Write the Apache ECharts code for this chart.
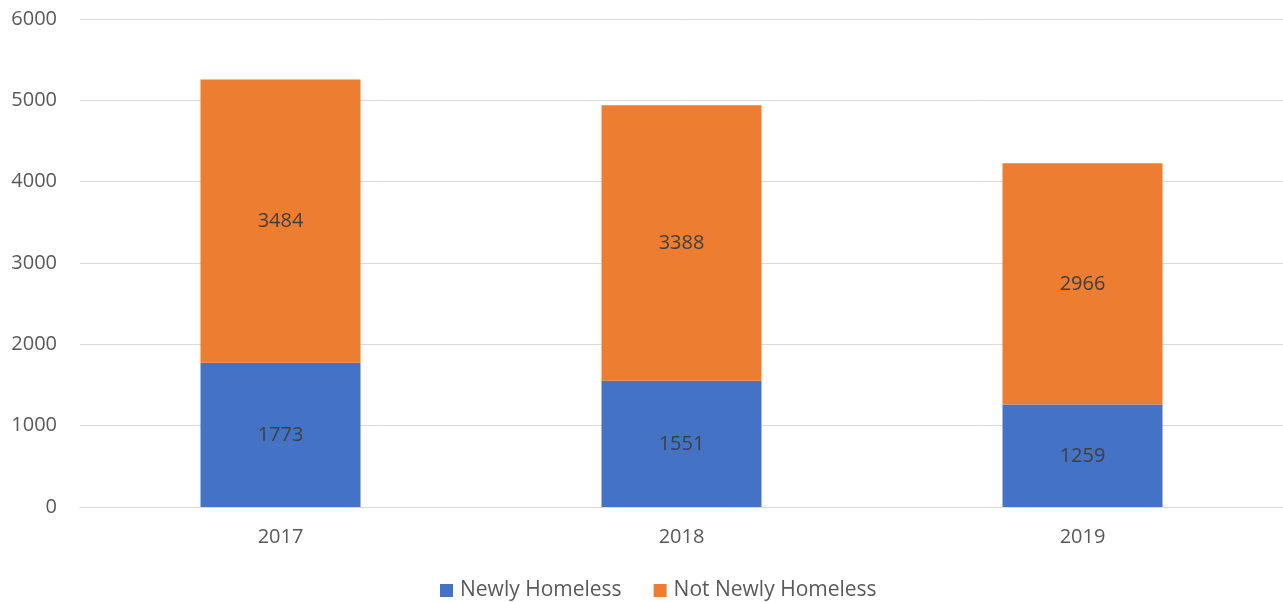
<!DOCTYPE html>
<html>
<head>
<meta charset="utf-8">
<script src="https://cdn.jsdelivr.net/npm/echarts@6/dist/echarts.min.js"></script>
<style>
  html, body { margin: 0; padding: 0; background: #ffffff; }
  #chart { width: 1283px; height: 602px; }
</style>
</head>
<body>
<div id="chart"></div>
<script>
// Homeless counts by year, split into newly and not newly homeless
const years = ['2017', '2018', '2019'];
const newlyHomeless = [1773, 1551, 1259];
const notNewlyHomeless = [3484, 3388, 2966];
const yTicks = [0, 1000, 2000, 3000, 4000, 5000, 6000];

const FONT = "'Open Sans', 'Liberation Sans', sans-serif";
const FS = 20;

const chart = echarts.init(document.getElementById('chart'), null, { renderer: 'canvas' });

const labelStyle = {
  show: true,
  position: 'inside',
  color: '#404040',
  fontFamily: FONT,
  fontSize: FS
};

chart.setOption({
  animation: false,
  textStyle: { fontFamily: FONT },
  grid: { left: 80, right: 0, top: 19, bottom: 95, containLabel: false },
  legend: {
    left: 440,
    top: 580,
    padding: 0,
    itemWidth: 13,
    itemHeight: 13,
    itemGap: 32,
    icon: 'rect',
    textStyle: { color: '#595959', fontSize: 21, fontFamily: FONT, padding: [0, 0, 0, 2] },
    data: ['Newly Homeless', 'Not Newly Homeless']
  },
  xAxis: {
    type: 'category',
    data: years,
    axisLine: { show: true, lineStyle: { color: '#d9d9d9', width: 1 } },
    axisTick: { show: false },
    axisLabel: { color: '#595959', fontSize: FS, margin: 20, fontFamily: FONT }
  },
  yAxis: {
    type: 'value',
    min: yTicks[0],
    max: yTicks[yTicks.length - 1],
    interval: 1000,
    axisLine: { show: false },
    axisTick: { show: false },
    axisLabel: {
      color: '#595959', fontSize: FS, margin: 23, fontFamily: FONT,
      formatter: (v) => String(v)
    },
    splitLine: { lineStyle: { color: '#d9d9d9', width: 1 } }
  },
  series: [
    {
      name: 'Newly Homeless',
      type: 'bar',
      stack: 'total',
      data: newlyHomeless,
      barWidth: 160,
      itemStyle: { color: '#4472c4' },
      label: labelStyle
    },
    {
      name: 'Not Newly Homeless',
      type: 'bar',
      stack: 'total',
      data: notNewlyHomeless,
      barWidth: 160,
      itemStyle: { color: '#ed7d31' },
      label: labelStyle
    }
  ]
});
</script>
</body>
</html>
